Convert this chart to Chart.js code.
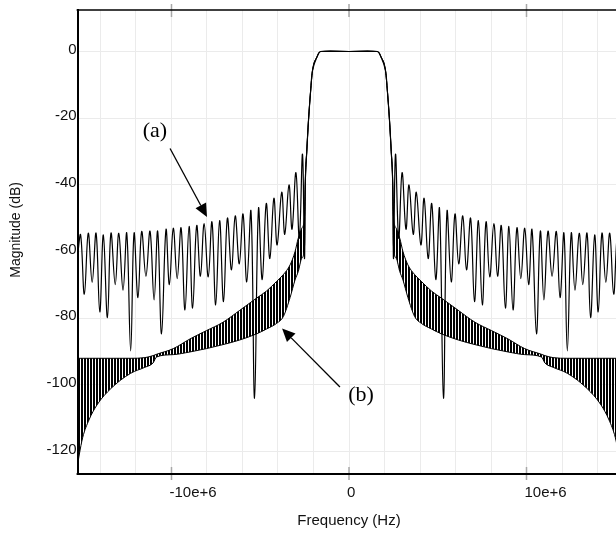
<!DOCTYPE html>
<html>
<head>
<meta charset="utf-8">
<script src="https://cdn.jsdelivr.net/npm/chart.js@4.4.1/dist/chart.umd.min.js"></script>
<style>
  html, body { margin: 0; padding: 0; overflow: hidden; background: #fff; }
  #wrap { width: 640px; height: 533px; }
</style>
</head>
<body>
<div id="wrap"><canvas id="filterResponse" width="640" height="533"></canvas></div>
<script>
// positive-frequency half (MHz, dB), mirrored about 0 Hz
var passFreq = [0, 1.60, 1.80, 2.05, 2.15, 2.28, 2.38, 2.46];
var passDb   = [0, 0, -1.6, -5.5, -11, -20.5, -30, -39];

// (a): sidelobe nulls and peaks
var aFreq = [2.51, 2.62, 2.80, 2.99, 3.21, 3.38, 3.62, 3.79, 4.05, 4.23, 4.46, 4.66,
             4.89, 5.10, 5.32, 5.52, 5.76, 5.97, 6.18, 6.41, 6.62, 6.85, 7.07, 7.29,
             7.51, 7.72, 7.93, 8.16, 8.37, 8.58, 8.81, 9.01, 9.24, 9.46, 9.68, 9.90,
             10.12, 10.31, 10.56, 10.78, 10.98, 11.21, 11.44, 11.68, 11.89, 12.11, 12.30, 12.52,
             12.73, 12.97, 13.17, 13.41, 13.61, 13.84, 14.04, 14.25, 14.47, 14.69, 14.91, 15.12, 15.29];
var aDb = [-62, -30.8, -56, -36.3, -53.3, -40, -54.8, -42.2, -58, -44, -62.1, -45.6,
           -68.4, -47.2, -104, -48, -69.1, -48.7, -63.7, -49.3, -65.5, -50, -75, -50.7,
           -76, -51.1, -67.6, -51.6, -67.4, -52.2, -77, -52.4, -77.5, -52.9, -68.1, -53,
           -69.9, -53.4, -84.7, -53.9, -74.5, -53.9, -67.4, -54, -73.8, -54.5, -89.8, -54.5,
           -71.6, -54.5, -69.9, -54.5, -79.8, -55, -78.1, -54.5, -69.2, -54.5, -72.8, -55, -61];

// (b): the ripple is too dense to follow, so keep its top and bottom edges
var bFreq  = [2.50, 2.66, 2.86, 3.04, 3.32, 3.70, 4.07, 4.64, 5.22, 6.15, 7.10, 8.03,
              8.96, 9.90, 10.84, 11.04, 11.5, 12.3, 13.4, 14.2, 14.65, 15.0, 15.2, 15.29];
var bUpper = [-49, -53, -56, -60, -64, -66.9, -68.9, -71.8, -74, -77.6, -81.2, -83.7,
              -86.2, -89.1, -90.8, -91.2, -91.8, -92, -92, -92, -92, -92, -92, -92];
var bLower = [-58, -62, -66, -68.5, -73.8, -79.5, -81.5, -83.2, -84.7, -86.5, -87.9, -89.1,
              -90.1, -90.9, -91.6, -93.4, -94.7, -96.5, -101, -106, -110.5, -115.7, -121, -124];

var xGrid = [-14e6, -12e6, -10e6, -8e6, -6e6, -4e6, -2e6, 0, 2e6, 4e6, 6e6, 8e6, 10e6, 12e6, 14e6];
var xLabelValues = [-10e6, 0, 10e6];
var xLabelTexts = ['-10e+6', '0', '10e+6'];
var yTicks = [0, -20, -40, -60, -80, -100, -120];

function mirror(freqs, vals) {
  var pts = [];
  for (var i = freqs.length - 1; i > 0; i--) pts.push({x: -freqs[i] * 1e6, y: vals[i]});
  for (var j = 0; j < freqs.length; j++) pts.push({x: freqs[j] * 1e6, y: vals[j]});
  return pts;
}

var labelFont = {family: 'Liberation Sans, Arial, sans-serif', size: 15};

var ctx = document.getElementById('filterResponse').getContext('2d');

// vertical stripes to mimic the dense ripple of curve (b)
var pc = document.createElement('canvas');
pc.width = 3; pc.height = 1;
var pctx = pc.getContext('2d');
pctx.fillStyle = '#000';
pctx.fillRect(0, 0, 2, 1);
var stripes = ctx.createPattern(pc, 'repeat');

var notes = [
  {text: '(a)', x: -10.93e6, y: -23.8, fromX: -10.08e6, fromY: -29.1, toX: -8.0e6, toY: -49.6},
  {text: '(b)', x: 0.68e6, y: -103, fromX: -0.51e6, fromY: -100.6, toX: -3.77e6, toY: -83.1}
];

var extras = {
  id: 'extras',
  afterDraw: function (chart) {
    var c = chart.ctx, a = chart.chartArea, xs = chart.scales.x, ys = chart.scales.y;
    c.save();
    // major tick marks crossing top and bottom frame
    c.strokeStyle = '#a8a8a8';
    c.lineWidth = 1.5;
    xLabelValues.forEach(function (v) {
      var px = xs.getPixelForValue(v);
      c.beginPath();
      c.moveTo(px, a.top - 6); c.lineTo(px, a.top + 7);
      c.moveTo(px, a.bottom - 7); c.lineTo(px, a.bottom + 6);
      c.stroke();
    });
    c.strokeStyle = '#000';
    c.lineWidth = 1.7;
    c.beginPath(); c.moveTo(a.left - 1, a.top); c.lineTo(a.right, a.top); c.stroke();
    c.lineWidth = 2;
    c.beginPath(); c.moveTo(a.left - 1, a.bottom); c.lineTo(a.right, a.bottom); c.stroke();

    // y axis title, sitting a little above the middle of the axis
    c.fillStyle = '#111';
    c.font = '14px "Liberation Sans", Arial, sans-serif';
    c.textAlign = 'center';
    c.textBaseline = 'middle';
    c.translate(16.5, ys.getPixelForValue(-53.5));
    c.rotate(-Math.PI / 2);
    c.fillText('Magnitude (dB)', 0, 0);
    c.setTransform(1, 0, 0, 1, 0, 0);

    // annotations
    c.fillStyle = '#000';
    c.font = '22px "Liberation Serif", "Times New Roman", serif';
    notes.forEach(function (n) {
      c.fillText(n.text, xs.getPixelForValue(n.x), ys.getPixelForValue(n.y));
      var x0 = xs.getPixelForValue(n.fromX), y0 = ys.getPixelForValue(n.fromY);
      var x1 = xs.getPixelForValue(n.toX), y1 = ys.getPixelForValue(n.toY);
      var dx = x1 - x0, dy = y1 - y0, len = Math.sqrt(dx * dx + dy * dy);
      var ux = dx / len, uy = dy / len, hl = 13, hw = 6;
      c.lineWidth = 1.3;
      c.beginPath(); c.moveTo(x0, y0); c.lineTo(x1 - ux * hl, y1 - uy * hl); c.stroke();
      c.beginPath();
      c.moveTo(x1, y1);
      c.lineTo(x1 - ux * hl - uy * hw, y1 - uy * hl + ux * hw);
      c.lineTo(x1 - ux * hl + uy * hw, y1 - uy * hl - ux * hw);
      c.closePath();
      c.fill();
    });
    c.restore();
  }
};

new Chart(ctx, {
  type: 'line',
  data: {
    datasets: [{
      label: '(a)',
      data: mirror(passFreq.concat(aFreq), passDb.concat(aDb)),
      borderColor: '#000',
      borderWidth: 1.2,
      tension: 0.4,
      fill: false
    }, {
      label: '(b) top',
      data: mirror(passFreq.concat(bFreq), passDb.concat(bUpper)),
      borderColor: '#000',
      borderWidth: 1,
      cubicInterpolationMode: 'monotone',
      fill: false
    }, {
      label: '(b) bottom',
      data: mirror(passFreq.concat(bFreq), passDb.concat(bLower)),
      borderColor: '#000',
      borderWidth: 1,
      cubicInterpolationMode: 'monotone',
      backgroundColor: stripes,
      fill: '-1'
    }]
  },
  options: {
    responsive: false,
    animation: false,
    devicePixelRatio: 1,
    elements: { point: { radius: 0 } },
    layout: { padding: { top: 5.7, right: 19.6, left: 0, bottom: 0 } },
    plugins: { legend: { display: false }, tooltip: { enabled: false } },
    scales: {
      x: {
        type: 'linear',
        min: -15.29e6,
        max: 15.29e6,
        afterBuildTicks: function (s) { s.ticks = xGrid.map(function (v) { return {value: v}; }); },
        afterFit: function (s) { s.height = 59; },
        grid: { color: '#ebebeb', drawTicks: false },
        border: { color: '#000', width: 2 },
        ticks: {
          autoSkip: false, maxRotation: 0, align: 'start', labelOffset: -2, padding: 10,
          color: '#111', font: labelFont,
          callback: function (v) { var k = xLabelValues.indexOf(v); return k < 0 ? '' : xLabelTexts[k]; }
        },
        title: { display: true, text: 'Frequency (Hz)', color: '#111', font: labelFont, padding: {top: 0, bottom: 3} }
      },
      y: {
        min: -126.7,
        max: 12.45,
        afterBuildTicks: function (s) { s.ticks = yTicks.map(function (v) { return {value: v}; }); },
        afterFit: function (s) { s.width = 77.6; },
        grid: { color: '#ebebeb', drawTicks: false },
        border: { color: '#000', width: 2 },
        ticks: { padding: 1, color: '#111', font: labelFont, labelOffset: -2 }
      }
    }
  },
  plugins: [extras]
});
</script>
</body>
</html>
